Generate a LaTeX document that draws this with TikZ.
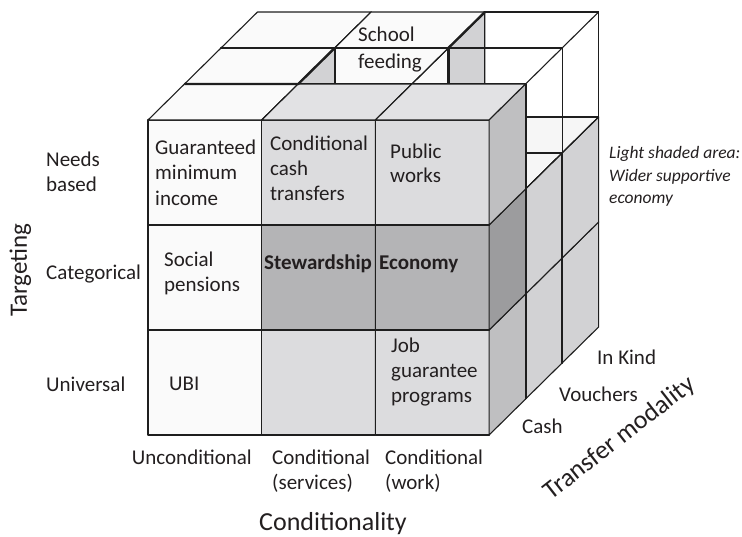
\documentclass[tikz,border=0pt]{standalone}
\usepackage{fontspec}
\setmainfont{Carlito}
\definecolor{fw}{HTML}{FAFAFA}
\definecolor{fl}{HTML}{DCDCDE}
\definecolor{fd}{HTML}{B4B4B6}
\definecolor{sl}{HTML}{D2D2D4}
\definecolor{sm}{HTML}{BFBFC1}
\definecolor{sd}{HTML}{9C9C9E}
\definecolor{tw}{HTML}{F6F6F6}
\definecolor{tl}{HTML}{E2E2E4}
\definecolor{edgec}{HTML}{1E1E1E}
\definecolor{txtc}{HTML}{231F20}
\tikzset{
  face/.style={draw=edgec, line width=1.1pt, line join=round},
  wire/.style={draw=edgec, line width=1.1pt},
  heavy/.style={draw=edgec, line width=2.4pt},
  medium/.style={draw=edgec, line width=1.9pt},
  txt/.style={inner sep=0pt, anchor=base west, text=txtc, font=\fontsize{21}{25}\selectfont},
  bigtxt/.style={inner sep=0pt, anchor=base, text=txtc, font=\fontsize{26}{30}\selectfont},
  legendtxt/.style={inner sep=0pt, anchor=base west, text=txtc, font=\fontsize{17.5}{22}\selectfont\itshape},
}
\newcommand{\solidcube}[6]{%
  \filldraw[face, fill=#4] (#1,#2,#3) -- ++(1,0,0) -- ++(0,1,0) -- ++(-1,0,0) -- cycle;
  \filldraw[face, fill=#5] (#1,#2,#3) ++(0,1,0) -- ++(1,0,0) -- ++(0,0,1) -- ++(-1,0,0) -- cycle;
  \filldraw[face, fill=#6] (#1,#2,#3) ++(1,0,0) -- ++(0,0,1) -- ++(0,1,0) -- ++(0,0,-1) -- cycle;
}
\newcommand{\wirecube}[3]{%
  \draw[wire] (#1,#2,#3) -- ++(1,0,0) -- ++(0,1,0) -- ++(-1,0,0) -- cycle;
  \draw[wire] (#1,#2,#3) ++(0,0,1) -- ++(1,0,0) -- ++(0,1,0) -- ++(-1,0,0) -- cycle;
  \draw[wire] (#1,#2,#3) -- ++(0,0,1) (#1,#2,#3) ++(1,0,0) -- ++(0,0,1)
              (#1,#2,#3) ++(1,1,0) -- ++(0,0,1) (#1,#2,#3) ++(0,1,0) -- ++(0,0,1);
}
\begin{document}
\begin{tikzpicture}[x=1pt, y=-1pt]
\path[use as bounding box] (0,0) rectangle (742,536);
\begin{scope}[shift={(148,435)}, x={(113.7pt,0pt)}, y={(0pt,105pt)}, z={(36.5pt,36pt)}]
  % in kind layer (back)
  \solidcube{0}{0}{2}{fl}{fl}{sl}
  \solidcube{1}{0}{2}{fl}{fl}{sl}
  \solidcube{2}{0}{2}{fl}{fl}{sl}
  \solidcube{0}{1}{2}{fl}{fl}{sl}
  \solidcube{1}{1}{2}{fl}{tw}{sl}
  \solidcube{2}{1}{2}{fl}{tw}{sl}
  \solidcube{0}{2}{2}{fw}{fw}{sl}
  \solidcube{1}{2}{2}{fw}{fw}{sl}
  \wirecube{2}{2}{2}
  % vouchers layer
  \solidcube{0}{0}{1}{fl}{fl}{sl}
  \solidcube{1}{0}{1}{fl}{fl}{sl}
  \solidcube{2}{0}{1}{fl}{fl}{sl}
  \solidcube{0}{1}{1}{fl}{fl}{sl}
  \solidcube{1}{1}{1}{fl}{tw}{sl}
  \solidcube{2}{1}{1}{fl}{tw}{sl}
  \solidcube{0}{2}{1}{fw}{fw}{sl}
  \wirecube{1}{2}{1}
  \wirecube{2}{2}{1}
  % cash layer (front)
  \solidcube{0}{0}{0}{fw}{fw}{sm}
  \solidcube{1}{0}{0}{fl}{fl}{sm}
  \solidcube{2}{0}{0}{fl}{fl}{sm}
  \solidcube{0}{1}{0}{fw}{fw}{sd}
  \solidcube{1}{1}{0}{fd}{fd}{sd}
  \solidcube{2}{1}{0}{fd}{fd}{sd}
  \solidcube{0}{2}{0}{fw}{fw}{sm}
  \solidcube{1}{2}{0}{fl}{tl}{sm}
  \solidcube{2}{2}{0}{fl}{tl}{sm}
  % heavier edges
  \draw[heavy] (0,3,2) -- (2,3,2);
  \draw[heavy] (0,3,1) -- (1,3,1) -- (1,3,2);
  \draw[heavy] (1,3,2) -- (1,2.657,2);
  \draw[heavy] (2,3,2) -- (2,2.657,2);
  \draw[heavy] (2,3,2) -- (2,3,3);
  \draw[heavy] (2.68,2,2) -- (3,2,2);
  \draw[medium] (3,0,1) -- (3,3,1);
  \draw[medium] (3,0,2) -- (3,2,2);
\end{scope}
% cell texts
\node[txt] (g1) at (155,154) {Guaranteed};
\node[txt] (g2) at (155,179.5) {minimum};
\node[txt] (g3) at (155,205) {income};
\node[txt] (c1) at (270,150.5) {Conditional};
\node[txt] (c2) at (270,175.5) {cash};
\node[txt] (c3) at (270,200.5) {transfers};
\node[txt] (p1) at (390,158) {Public};
\node[txt] (p2) at (390,182) {works};
\node[txt] (s1) at (164,266.5) {Social};
\node[txt] (s2) at (164,291.5) {pensions};
\node[txt, font=\fontsize{21}{25}\selectfont\bfseries] (st) at (264,269) {Stewardship};
\node[txt, font=\fontsize{21}{25}\selectfont\bfseries] (ec) at (379,269) {Economy};
\node[txt] (ubi) at (169,390.5) {UBI};
\node[txt] (j1) at (391,352.5) {Job};
\node[txt] (j2) at (391,377.5) {guarantee};
\node[txt] (j3) at (391,402) {programs};
\node[txt] (sf1) at (358,41.5) {School};
\node[txt] (sf2) at (358,68) {feeding};
% targeting axis
\node[txt] (n1) at (46,166.5) {Needs};
\node[txt] (n2) at (46,191.5) {based};
\node[txt] (cat) at (46,279) {Categorical};
\node[txt] (uni) at (46,391.5) {Universal};
\node[bigtxt, rotate=90, font=\fontsize{25}{30}\selectfont] (targ) at (27,270) {Targeting};
% conditionality axis
\node[txt, anchor=base east] (unc) at (252,464) {Unconditional};
\node[txt] (cs1) at (272,464) {Conditional};
\node[txt] (cs2) at (272,489) {(services)};
\node[txt] (cw1) at (385,464) {Conditional};
\node[txt] (cw2) at (385,489) {(work)};
\node[bigtxt] (cond) at (333,530) {Conditionality};
% transfer modality axis
\node[txt] (cash) at (522,433) {Cash};
\node[txt] (vouch) at (559,401.5) {Vouchers};
\node[txt] (kind) at (597,364) {In Kind};
\node[bigtxt, rotate=38] (tm) at (624,444) {Transfer modality};
% legend
\node[legendtxt] (l1) at (609,158) {Light shaded area:};
\node[legendtxt] (l2) at (609,181) {Wider supportive};
\node[legendtxt] (l3) at (609,203.5) {economy};
\end{tikzpicture}
\end{document}
